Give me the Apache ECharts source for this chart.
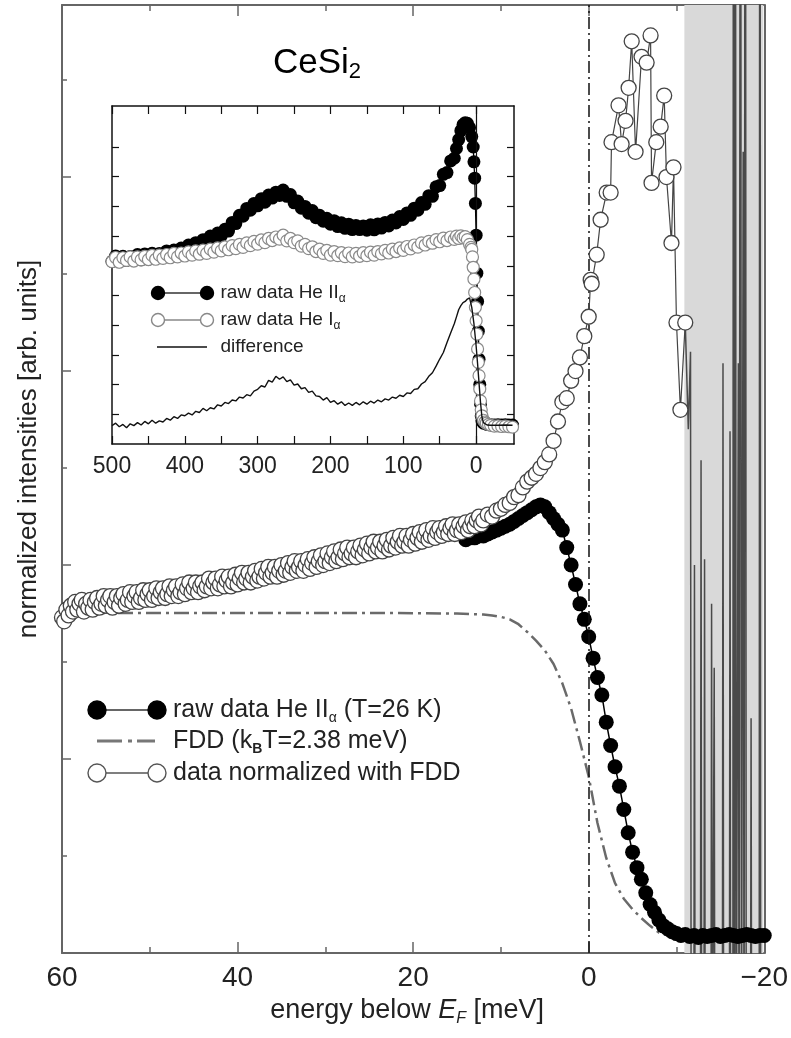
<!DOCTYPE html>
<html>
<head>
<meta charset="utf-8">
<script src="https://cdn.jsdelivr.net/npm/echarts@6/dist/echarts.min.js"></script>
<style>
html, body {margin: 0; padding: 0; background: #fff;}
#chart {width: 791px; height: 1038px;}
</style>
</head>
<body>
<div id="chart"></div>
<script>
const FONT = "'Liberation Sans', Arial, Helvetica, sans-serif";

// main panel: [energy below EF (meV), intensity (arb. units)]
const heIIMain = [
    [14, 2.13], [13.5, 2.14], [13, 2.14], [12.5, 2.15], [12, 2.15], [11.5, 2.16], [11, 2.17],
    [10.5, 2.18], [10, 2.19], [9.5, 2.20], [9, 2.21], [8.5, 2.225], [8, 2.24], [7.5, 2.255],
    [7, 2.27], [6.5, 2.285], [6, 2.30], [5.5, 2.31], [5, 2.30], [4.5, 2.27], [4, 2.24],
    [3.5, 2.21], [3, 2.18], [2.5, 2.09], [2, 2.00], [1.5, 1.90], [1, 1.80], [0.5, 1.72],
    [0, 1.63], [-0.5, 1.52], [-1, 1.42], [-1.5, 1.33], [-2, 1.19], [-2.5, 1.07], [-3, 0.96],
    [-3.5, 0.86], [-4, 0.74], [-4.5, 0.62], [-5, 0.52], [-5.5, 0.44], [-6, 0.38], [-6.5, 0.31],
    [-7, 0.25], [-7.5, 0.21], [-8, 0.17], [-8.5, 0.14], [-9, 0.125], [-9.5, 0.11], [-10, 0.10],
    [-10.5, 0.09], [-11, 0.095], [-11.5, 0.085], [-12, 0.09], [-12.5, 0.08], [-13, 0.09],
    [-13.5, 0.085], [-14, 0.09], [-14.5, 0.095], [-15, 0.085], [-15.5, 0.09], [-16, 0.095],
    [-16.5, 0.09], [-17, 0.085], [-17.5, 0.09], [-18, 0.095], [-18.5, 0.09], [-19, 0.085],
    [-19.5, 0.09], [-20, 0.09],
];

const normMain = [
    [60, 1.73], [59.75, 1.71], [59.5, 1.77], [59.25, 1.74], [59, 1.79], [58.75, 1.76], [58.5, 1.81], [58.25, 1.77],
    [58, 1.80], [57.75, 1.82], [57.5, 1.76], [57.25, 1.80], [57, 1.78], [56.75, 1.82], [56.5, 1.77], [56.25, 1.81],
    [56, 1.83], [55.75, 1.78], [55.5, 1.80], [55.25, 1.84], [55, 1.79], [54.75, 1.82], [54.5, 1.84], [54.25, 1.78],
    [54, 1.81], [53.75, 1.84], [53.5, 1.79], [53.25, 1.83], [53, 1.85], [52.75, 1.80], [52.5, 1.82], [52.25, 1.86],
    [52, 1.81], [51.75, 1.84], [51.5, 1.86], [51.25, 1.81], [51, 1.83], [50.75, 1.87], [50.5, 1.82], [50.25, 1.85],
    [50, 1.87], [49.75, 1.82], [49.5, 1.84], [49.25, 1.88], [49, 1.83], [48.75, 1.86], [48.5, 1.88], [48.25, 1.83],
    [48, 1.85], [47.75, 1.89], [47.5, 1.84], [47.25, 1.87], [47, 1.89], [46.75, 1.84], [46.5, 1.86], [46.25, 1.90],
    [46, 1.85], [45.75, 1.88], [45.5, 1.91], [45.25, 1.86], [45, 1.88], [44.75, 1.91], [44.5, 1.86], [44.25, 1.89],
    [44, 1.91], [43.75, 1.87], [43.5, 1.89], [43.25, 1.93], [43, 1.88], [42.75, 1.91], [42.5, 1.93], [42.25, 1.88],
    [42, 1.90], [41.75, 1.94], [41.5, 1.89], [41.25, 1.92], [41, 1.94], [40.75, 1.89], [40.5, 1.91], [40.25, 1.95],
    [40, 1.90], [39.75, 1.93], [39.5, 1.96], [39.25, 1.91], [39, 1.93], [38.75, 1.96], [38.5, 1.91], [38.25, 1.94],
    [38, 1.97], [37.75, 1.92], [37.5, 1.94], [37.25, 1.98], [37, 1.93], [36.75, 1.96], [36.5, 1.99], [36.25, 1.94],
    [36, 1.96], [35.75, 1.99], [35.5, 1.94], [35.25, 1.97], [35, 2.00], [34.75, 1.95], [34.5, 1.97], [34.25, 2.01],
    [34, 1.96], [33.75, 1.99], [33.5, 2.02], [33.25, 1.97], [33, 1.99], [32.75, 2.02], [32.5, 1.97], [32.25, 2.00],
    [32, 2.03], [31.75, 1.98], [31.5, 2.01], [31.25, 2.04], [31, 1.99], [30.75, 2.02], [30.5, 2.05], [30.25, 2.00],
    [30, 2.02], [29.75, 2.06], [29.5, 2.01], [29.25, 2.04], [29, 2.07], [28.75, 2.02], [28.5, 2.04], [28.25, 2.08],
    [28, 2.03], [27.75, 2.06], [27.5, 2.09], [27.25, 2.04], [27, 2.06], [26.75, 2.09], [26.5, 2.04], [26.25, 2.07],
    [26, 2.10], [25.75, 2.05], [25.5, 2.08], [25.25, 2.11], [25, 2.06], [24.75, 2.09], [24.5, 2.12], [24.25, 2.07],
    [24, 2.09], [23.75, 2.12], [23.5, 2.07], [23.25, 2.10], [23, 2.13], [22.75, 2.08], [22.5, 2.10], [22.25, 2.14],
    [22, 2.09], [21.75, 2.12], [21.5, 2.15], [21.25, 2.10], [21, 2.12], [20.75, 2.15], [20.5, 2.10], [20.25, 2.13],
    [20, 2.16], [19.75, 2.11], [19.5, 2.14], [19.25, 2.17], [19, 2.12], [18.75, 2.15], [18.5, 2.18], [18.25, 2.13],
    [18, 2.15], [17.75, 2.19], [17.5, 2.14], [17.25, 2.17], [17, 2.19], [16.75, 2.15], [16.5, 2.17], [16.25, 2.20],
    [16, 2.16], [15.75, 2.19], [15.5, 2.21], [15.25, 2.16], [15, 2.18], [14.75, 2.21], [14.5, 2.17], [14.25, 2.20],
    [14, 2.22], [13.75, 2.18], [13.5, 2.20], [13.25, 2.23], [13, 2.20], [12.75, 2.23], [12.5, 2.25], [12.25, 2.21],
    [12, 2.23], [11.5, 2.26], [11, 2.25], [10.5, 2.28], [10, 2.29], [9.5, 2.31], [9, 2.32], [8.5, 2.35],
    [8, 2.36], [7.5, 2.40], [7, 2.43], [6.5, 2.45], [6, 2.47], [5.5, 2.50], [5, 2.53], [4.5, 2.57],
    [4, 2.64], [3.5, 2.74], [3, 2.84], [2.5, 2.86], [2, 2.95], [1.5, 3.00], [1, 3.07],
    [0.5, 3.18], [0, 3.28], [-0.23, 3.47], [-0.34, 3.45], [-0.91, 3.60], [-1.36, 3.78],
    [-2.05, 3.92], [-2.5, 3.92], [-2.6, 4.18], [-3.4, 4.37], [-3.75, 4.17], [-4.2, 4.29],
    [-4.55, 4.46], [-4.9, 4.70], [-5.34, 4.13], [-6.02, 4.62], [-6.6, 4.59], [-7.05, 4.73],
    [-7.16, 3.97], [-7.7, 4.18], [-8.2, 4.26], [-8.6, 4.42], [-8.86, 4.00], [-9.43, 3.66],
    [-9.66, 4.05], [-10.0, 3.25], [-10.45, 2.80], [-11.0, 3.25],
];

// normalized data beyond the cut-off: values run far outside the frame
const normSpikes = [
    [-11.0, 3.25], [-11.35, 2.70], [-11.6, 3.10], [-11.68, -1], [-11.97, -1], [-12.05, 2.0],
    [-12.13, -1], [-12.72, -1], [-12.8, 2.54], [-12.88, -1], [-13.12, -1], [-13.2, 2.03],
    [-13.28, -1], [-13.92, -1], [-14.0, 1.80], [-14.08, -1], [-14.22, -1], [-14.3, 1.47],
    [-14.38, -1], [-15.22, -1], [-15.3, 3.04], [-15.38, -1], [-16.02, -1], [-16.1, 2.69],
    [-16.18, -1], [-16.42, -1], [-16.5, 9], [-16.6, -1], [-16.7, 9], [-16.8, -1], [-16.97, -1],
    [-17.05, 3.04], [-17.13, -1], [-17.22, -1], [-17.3, 9], [-17.4, -1], [-17.52, -1],
    [-17.6, 4.13], [-17.7, -1], [-17.84, 9], [-17.95, -1], [-18.42, -1], [-18.5, 1.21],
    [-18.58, -1], [-19.42, -1], [-19.5, 9], [-19.6, -1],
];

const fddMain = [
    [60, 1.753], [50, 1.753], [40, 1.753], [30, 1.753], [20, 1.752], [15, 1.75], [12, 1.745],
    [11, 1.74], [10, 1.733], [9, 1.72], [8, 1.695], [7, 1.655], [6, 1.61], [5, 1.56], [4, 1.49],
    [3, 1.39], [2, 1.26], [1, 1.09], [0, 0.91], [-1, 0.67], [-2, 0.49], [-3, 0.36], [-4, 0.28],
    [-5, 0.225], [-6, 0.18], [-7, 0.14], [-8, 0.105], [-9, 0.09],
];

// inset: [energy below EF (meV), intensity]
const insetHeII = [
    [500, 6.15], [495, 6.33], [490, 6.14], [485, 6.32], [480, 6.18], [475, 6.31], [470, 6.19],
    [465, 6.38], [460, 6.20], [455, 6.40], [450, 6.22], [445, 6.42], [440, 6.28], [435, 6.41],
    [430, 6.30], [425, 6.50], [420, 6.32], [415, 6.53], [410, 6.40], [405, 6.60], [400, 6.47],
    [395, 6.70], [390, 6.58], [385, 6.78], [380, 6.66], [375, 6.88], [370, 6.78], [365, 7.00],
    [360, 6.90], [355, 7.10], [350, 7.00], [345, 7.23], [340, 7.17], [335, 7.46], [330, 7.42],
    [325, 7.70], [320, 7.67], [315, 7.93], [310, 7.87], [305, 8.10], [300, 8.02], [295, 8.26],
    [290, 8.14], [285, 8.38], [280, 8.28], [275, 8.48], [270, 8.37], [265, 8.55], [260, 8.34],
    [255, 8.40], [250, 8.12], [245, 8.18], [240, 7.94], [235, 8.00], [230, 7.77], [225, 7.86],
    [220, 7.62], [215, 7.70], [210, 7.50], [205, 7.60], [200, 7.40], [195, 7.52], [190, 7.32],
    [185, 7.45], [180, 7.26], [175, 7.40], [170, 7.22], [165, 7.36], [160, 7.22], [155, 7.34],
    [150, 7.20], [145, 7.38], [140, 7.21], [135, 7.41], [130, 7.27], [125, 7.46], [120, 7.34],
    [115, 7.54], [110, 7.44], [105, 7.66], [100, 7.56], [95, 7.78], [90, 7.70], [85, 7.94],
    [80, 7.87], [75, 8.13], [70, 8.07], [65, 8.36], [60, 8.34], [55, 8.66], [50, 8.70],
    [45, 9.08], [40, 9.14], [35, 9.53], [30, 9.62], [27, 9.95], [24, 10.25], [21, 10.55],
    [18, 10.75], [15, 10.82], [12, 10.80], [9, 10.65], [6, 10.35], [4, 10.0], [3, 9.5],
    [2, 8.95], [1, 8.1], [0, 7.03], [-1, 5.75], [-2, 4.8], [-3, 3.8], [-4, 2.85], [-5, 2.0],
    [-6, 1.35], [-7, 0.95], [-8, 0.78], [-10, 0.70], [-15, 0.66], [-20, 0.65], [-25, 0.64],
    [-30, 0.65], [-35, 0.64], [-40, 0.65], [-45, 0.64], [-50, 0.64],
];

const insetHeI = [
    [500, 6.14], [495, 6.28], [490, 6.12], [485, 6.27], [480, 6.18], [475, 6.30], [470, 6.16],
    [465, 6.30], [460, 6.20], [455, 6.32], [450, 6.21], [445, 6.35], [440, 6.22], [435, 6.36],
    [430, 6.25], [425, 6.38], [420, 6.27], [415, 6.42], [410, 6.30], [405, 6.43], [400, 6.33],
    [395, 6.47], [390, 6.36], [385, 6.50], [380, 6.39], [375, 6.53], [370, 6.42], [365, 6.56],
    [360, 6.46], [355, 6.60], [350, 6.50], [345, 6.64], [340, 6.54], [335, 6.68], [330, 6.58],
    [325, 6.72], [320, 6.62], [315, 6.77], [310, 6.68], [305, 6.82], [300, 6.73], [295, 6.87],
    [290, 6.78], [285, 6.92], [280, 6.85], [275, 6.97], [270, 6.90], [265, 7.03], [260, 6.84],
    [255, 6.92], [250, 6.78], [245, 6.84], [240, 6.66], [235, 6.72], [230, 6.58], [225, 6.64],
    [220, 6.48], [215, 6.56], [210, 6.42], [205, 6.52], [200, 6.36], [195, 6.48], [190, 6.34],
    [185, 6.44], [180, 6.31], [175, 6.43], [170, 6.30], [165, 6.42], [160, 6.32], [155, 6.44],
    [150, 6.34], [145, 6.46], [140, 6.36], [135, 6.48], [130, 6.40], [125, 6.52], [120, 6.43],
    [115, 6.56], [110, 6.48], [105, 6.60], [100, 6.52], [95, 6.65], [90, 6.57], [85, 6.70],
    [80, 6.63], [75, 6.77], [70, 6.70], [65, 6.82], [60, 6.76], [55, 6.88], [50, 6.81],
    [45, 6.93], [40, 6.85], [35, 6.97], [30, 6.89], [27, 7.00], [24, 6.92], [21, 7.01],
    [18, 6.94], [15, 6.98], [12, 6.88], [9, 6.72], [7, 6.62], [6, 6.55], [5, 6.3], [4, 5.95],
    [3, 5.55], [2, 5.1], [1, 4.6], [0, 4.15], [-1, 3.7], [-2, 3.2], [-3, 2.75], [-4, 2.3],
    [-5, 1.85], [-6, 1.45], [-7, 1.15], [-8, 0.95], [-10, 0.80], [-12, 0.74], [-14, 0.70],
    [-17, 0.66], [-20, 0.63], [-25, 0.60], [-30, 0.61], [-35, 0.59], [-40, 0.60], [-45, 0.58],
    [-50, 0.57],
];

const insetDiff = [
    [500, 0.62], [495, 0.70], [490, 0.58], [485, 0.66], [480, 0.55], [475, 0.68], [470, 0.62],
    [465, 0.72], [460, 0.64], [455, 0.76], [450, 0.68], [445, 0.80], [440, 0.70], [435, 0.78],
    [430, 0.74], [425, 0.86], [420, 0.80], [415, 0.92], [410, 0.86], [405, 0.98], [400, 0.95],
    [395, 1.04], [390, 0.98], [385, 1.10], [380, 1.06], [375, 1.20], [370, 1.12], [365, 1.22],
    [360, 1.18], [355, 1.32], [350, 1.28], [345, 1.40], [340, 1.36], [335, 1.48], [330, 1.45],
    [325, 1.58], [320, 1.55], [315, 1.66], [310, 1.62], [305, 1.78], [300, 1.84], [295, 1.96],
    [290, 1.92], [285, 2.14], [280, 2.08], [275, 2.28], [270, 2.18], [265, 2.26], [260, 2.10],
    [255, 2.16], [250, 1.98], [245, 2.02], [240, 1.86], [235, 1.90], [230, 1.74], [225, 1.78],
    [220, 1.62], [215, 1.60], [210, 1.48], [205, 1.56], [200, 1.40], [195, 1.46], [190, 1.34],
    [185, 1.42], [180, 1.30], [175, 1.38], [170, 1.30], [165, 1.40], [160, 1.32], [155, 1.42],
    [150, 1.34], [145, 1.44], [140, 1.38], [135, 1.48], [130, 1.42], [125, 1.52], [120, 1.48],
    [115, 1.58], [110, 1.54], [105, 1.64], [100, 1.60], [95, 1.72], [90, 1.70], [85, 1.84],
    [80, 1.86], [75, 2.02], [70, 2.10], [65, 2.28], [60, 2.40], [55, 2.62], [50, 2.86],
    [45, 3.08], [40, 3.42], [35, 3.74], [30, 4.05], [27, 4.28], [24, 4.52], [21, 4.66],
    [18, 4.76], [15, 4.80], [12, 4.88], [9, 4.92], [6, 4.6], [3, 4.05], [0, 3.3], [-2, 2.7],
    [-4, 2.05], [-6, 1.4], [-8, 0.9], [-10, 0.72], [-15, 0.64], [-20, 0.63], [-30, 0.63],
    [-40, 0.64], [-50, 0.63],
];

const insetXLabels = [500, 400, 300, 200, 100, 0];
const insetXTicks = [500, 450, 400, 350, 300, 250, 200, 150, 100, 50, 0];
const insetYTicks = [1, 2, 3, 4, 5, 6, 7, 8, 9, 10];

const fmtMinus = v => v < 0 ? '\u2212' + (-v) : String(v);

const chart = echarts.init(document.getElementById('chart'), null, {renderer: 'canvas'});

const mainAxisColor = '#666';
const mainTick = {inside: true, length: 11, lineStyle: {color: mainAxisColor, width: 1.5}};
const mainMinor = {show: true, splitNumber: 2, length: 6, lineStyle: {color: mainAxisColor, width: 1.5}};
const insetLine = {onZero: false, lineStyle: {color: '#111', width: 1.5}};
const insetTickX = {inside: true, length: 8, customValues: insetXTicks, lineStyle: {color: '#111', width: 1.2}};
const insetTickY = {inside: true, length: 7, customValues: insetYTicks, lineStyle: {color: '#111', width: 1.2}};

function legendRow(y, x0, x1, r, kind, text, rich) {
    const items = [];
    if (kind === 'fdd') {
        items.push({type: 'line', shape: {x1: x0, y1: y, x2: x1 - 2, y2: y},
            style: {stroke: '#777', lineWidth: 3, lineDash: [25, 6, 4, 5]}});
    } else if (kind === 'line') {
        items.push({type: 'line', shape: {x1: x0, y1: y, x2: x1, y2: y},
            style: {stroke: '#111', lineWidth: 1.5}});
    } else {
        const filled = kind === 'filled';
        const stroke = kind === 'gray' ? '#888' : '#555';
        items.push({type: 'line', shape: {x1: x0, y1: y, x2: x1, y2: y},
            style: {stroke: filled ? '#333' : stroke, lineWidth: 1.3}});
        for (const cx of [x0, x1]) {
            items.push({type: 'circle', shape: {cx, cy: y, r},
                style: {fill: filled ? '#000' : '#fff', stroke: filled ? '#000' : stroke, lineWidth: 1.4}});
        }
    }
    items.push({type: 'text', x: x1 + r + 7, y,
        style: {text, rich, verticalAlign: 'middle', align: 'left', fill: '#222'}});
    return items;
}

const mainRich = {
    a: {fontSize: 25, lineHeight: 30, fontFamily: FONT, color: '#222'},
    s: {fontSize: 14, lineHeight: 12, verticalAlign: 'bottom', fontFamily: FONT, color: '#222'},
    b: {fontSize: 14, lineHeight: 9, verticalAlign: 'bottom', fontFamily: FONT, color: '#222', fontWeight: 'bold'},
};
const insetRich = {
    a: {fontSize: 19, lineHeight: 23, fontFamily: FONT, color: '#222'},
    s: {fontSize: 12, lineHeight: 8, verticalAlign: 'bottom', fontFamily: FONT, color: '#222'},
};

chart.setOption({
    animation: false,
    backgroundColor: '#fff',
    textStyle: {fontFamily: FONT},
    grid: [
        {left: 62, top: 5, width: 704, height: 948},
        {left: 112, top: 106, width: 402, height: 338},
    ],
    xAxis: [
        {
            gridIndex: 0, type: 'value', min: -20, max: 60, inverse: true, interval: 20,
            axisLine: {onZero: false, lineStyle: {color: mainAxisColor, width: 2}},
            axisTick: mainTick, minorTick: mainMinor,
            axisLabel: {fontSize: 28, color: '#222', margin: 11, fontFamily: FONT, formatter: fmtMinus},
            splitLine: {show: false},
            name: '{a|energy below }{i|E}{s|F}{a| [meV]}',
            nameLocation: 'middle', nameGap: 38,
            nameTextStyle: {
                padding: [0, 12, 0, 0],
                rich: {
                    a: {fontSize: 27, lineHeight: 32, fontFamily: FONT, color: '#222'},
                    i: {fontSize: 27, lineHeight: 32, fontFamily: FONT, fontStyle: 'italic', color: '#222'},
                    s: {fontSize: 16, lineHeight: 10, verticalAlign: 'bottom', fontFamily: FONT, fontStyle: 'italic', color: '#222'},
                },
            },
        },
        {
            gridIndex: 0, type: 'value', position: 'top', min: -20, max: 60, inverse: true, interval: 20,
            axisLine: {onZero: false, lineStyle: {color: mainAxisColor, width: 2}},
            axisTick: mainTick, minorTick: mainMinor,
            axisLabel: {show: false}, splitLine: {show: false},
        },
        {
            gridIndex: 1, type: 'value', min: -52, max: 500, inverse: true,
            axisLine: insetLine, axisTick: insetTickX,
            axisLabel: {customValues: insetXLabels, fontSize: 23, color: '#222', margin: 11, fontFamily: FONT},
            splitLine: {show: false},
        },
        {
            gridIndex: 1, type: 'value', position: 'top', min: -52, max: 500, inverse: true,
            axisLine: insetLine, axisTick: insetTickX,
            axisLabel: {show: false}, splitLine: {show: false},
        },
    ],
    yAxis: [
        {
            gridIndex: 0, type: 'value', min: 0, max: 4.887, interval: 1,
            axisLine: {onZero: false, lineStyle: {color: mainAxisColor, width: 2}},
            axisTick: {inside: true, length: 9, lineStyle: {color: mainAxisColor, width: 1.5}},
            minorTick: {show: true, splitNumber: 2, length: 5, lineStyle: {color: mainAxisColor, width: 1.5}},
            axisLabel: {show: false}, splitLine: {show: false},
        },
        {
            gridIndex: 0, type: 'value', position: 'right', min: 0, max: 4.887,
            axisLine: {show: true, onZero: false, lineStyle: {color: mainAxisColor, width: 2}},
            axisTick: {show: false}, axisLabel: {show: false}, splitLine: {show: false},
        },
        {
            gridIndex: 1, type: 'value', min: 0, max: 11.38,
            axisLine: insetLine, axisTick: insetTickY,
            axisLabel: {show: false}, splitLine: {show: false},
        },
        {
            gridIndex: 1, type: 'value', position: 'right', min: 0, max: 11.38,
            axisLine: insetLine, axisTick: insetTickY,
            axisLabel: {show: false}, splitLine: {show: false},
        },
    ],
    series: [
        {
            name: 'FDD', type: 'line', xAxisIndex: 0, yAxisIndex: 0, z: 2,
            data: fddMain, showSymbol: false, silent: true,
            lineStyle: {color: '#6a6a6a', width: 2.5, type: [15, 5, 3, 5]},
            markArea: {
                silent: true,
                itemStyle: {color: '#d9d9d9'},
                data: [[{xAxis: -10.9}, {xAxis: -19.9}]],
            },
            markLine: {
                silent: true, symbol: ['none', 'none'], label: {show: false},
                lineStyle: {color: '#111', width: 1.5, type: [12, 4, 2, 4]},
                data: [{xAxis: 0}],
            },
        },
        {
            name: 'normalized (beyond cut-off)', type: 'line', xAxisIndex: 0, yAxisIndex: 0, z: 3,
            data: normSpikes, showSymbol: false, silent: true, clip: true,
            lineStyle: {color: '#4a4a4a', width: 1.5},
        },
        {
            name: 'raw data He II', type: 'line', xAxisIndex: 0, yAxisIndex: 0, z: 4,
            data: heIIMain, symbol: 'circle', symbolSize: 15, silent: true,
            itemStyle: {color: '#000'}, lineStyle: {color: '#000', width: 1.5},
        },
        {
            name: 'data normalized with FDD', type: 'line', xAxisIndex: 0, yAxisIndex: 0, z: 5,
            data: normMain, symbol: 'circle', symbolSize: 15, silent: true,
            itemStyle: {color: '#fff', borderColor: '#444', borderWidth: 1.3},
            lineStyle: {color: '#444', width: 1.2},
        },
        {
            name: 'inset He II', type: 'line', xAxisIndex: 2, yAxisIndex: 2, z: 4,
            data: insetHeII, symbol: 'circle', symbolSize: 13, silent: true,
            itemStyle: {color: '#000'}, lineStyle: {color: '#000', width: 1.3},
        },
        {
            name: 'inset He I', type: 'line', xAxisIndex: 2, yAxisIndex: 2, z: 5,
            data: insetHeI, symbol: 'circle', symbolSize: 12, silent: true,
            itemStyle: {color: '#fff', borderColor: '#8a8a8a', borderWidth: 1.2},
            lineStyle: {color: '#8a8a8a', width: 1},
        },
        {
            name: 'difference', type: 'line', xAxisIndex: 2, yAxisIndex: 2, z: 6,
            data: insetDiff, showSymbol: false, silent: true,
            lineStyle: {color: '#111', width: 1.4},
            markLine: {
                silent: true, symbol: ['none', 'none'], label: {show: false},
                lineStyle: {color: '#111', width: 1.2, type: 'solid'},
                data: [{xAxis: 0}],
            },
        },
    ],
    graphic: [
        {
            type: 'text', x: 273, y: 63,
            style: {
                text: '{a|CeSi}{s|2}', verticalAlign: 'middle', align: 'left',
                rich: {
                    a: {fontSize: 35, lineHeight: 40, fontFamily: FONT, color: '#222'},
                    s: {fontSize: 22, lineHeight: 6, verticalAlign: 'bottom', fontFamily: FONT, color: '#222'},
                },
            },
        },
        {
            type: 'text', x: 29, y: 449, rotation: Math.PI / 2,
            style: {
                text: 'normalized intensities [arb. units]', align: 'center', verticalAlign: 'middle',
                fontSize: 26, fontFamily: FONT, fill: '#222',
            },
        },
        ...legendRow(710, 97, 157, 9, 'filled', '{a|raw data He II}{s|\u03b1}{a| (T=26 K)}', mainRich),
        ...legendRow(741, 97, 157, 9, 'fdd', '{a|FDD (k}{b|B}{a|T=2.38 meV)}', mainRich),
        ...legendRow(773, 97, 157, 9, 'open', '{a|data normalized with FDD}', mainRich),
        ...legendRow(293, 158, 207, 6.5, 'filled', '{a|raw data He II}{s|\u03b1}', insetRich),
        ...legendRow(320, 158, 207, 6.5, 'gray', '{a|raw data He I}{s|\u03b1}', insetRich),
        ...legendRow(347, 157, 207, 6.5, 'line', '{a|difference}', insetRich),
    ],
});
</script>
</body>
</html>
